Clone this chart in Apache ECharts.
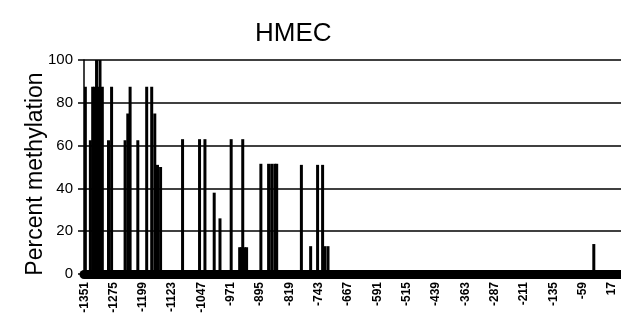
<!DOCTYPE html>
<html>
<head>
<meta charset="utf-8">
<script src="https://cdn.jsdelivr.net/npm/echarts@6/dist/echarts.min.js"></script>
<style>
    html, body {margin: 0; padding: 0; background: #fff;}
    #chart {width: 621px; height: 318px;}
</style>
</head>
<body>
<div id="chart"></div>
<script>
    // position (bp relative to start) -> percent methylation
    const firstPos = -1351;
    const lastPos = 40;
    const sitePositions = [-1348, -1335, -1329, -1324, -1319, -1313, -1310, -1304, -1288, -1280,
        -1245, -1238, -1232, -1212, -1189, -1176, -1168, -1161, -1153, -1096,
        -1052, -1038, -1014, -999, -970, -948, -944, -940, -935, -930,
        -893, -873, -865, -857, -852, -788, -764, -746, -733, -727, -719, -30];
    const siteValues = [87.5, 62.5, 87.5, 87.5, 100, 87.5, 100, 87.5, 62.5, 87.5,
        62.5, 75, 87.5, 62.5, 87.5, 87.5, 75, 51, 50, 63,
        63, 63, 38, 26, 63, 12.5, 12.5, 63, 12.5, 12.5,
        51.5, 51.5, 51.5, 51.5, 51.5, 51, 13, 51, 51, 13, 13, 14];
    const yTicks = [0, 20, 40, 60, 80, 100];

    let categories = [];
    for (let p = firstPos; p <= lastPos; p++) categories.push(String(p));
    let barData = categories.map(() => null);
    sitePositions.forEach((p, i) => {
        barData[p - firstPos] = siteValues[i];
    });

    let myChart = echarts.init(document.getElementById('chart'));
    myChart.setOption({
        animation: false,
        title: {
            text: 'HMEC',
            left: 250,
            top: 16,
            textStyle: {fontFamily: 'Liberation Sans', fontSize: 26, fontWeight: 'normal', color: '#000'}
        },
        grid: {left: 84, right: 0, top: 60, bottom: 44},
        xAxis: {
            type: 'category',
            data: categories,
            axisLine: {lineStyle: {color: '#000', width: 9}},
            axisTick: {show: false},
            axisLabel: {
                interval: 75,
                rotate: 90,
                margin: 8,
                color: '#000',
                fontFamily: 'Liberation Sans',
                fontWeight: 'bold',
                fontSize: 12
            }
        },
        yAxis: {
            type: 'value',
            min: yTicks[0],
            max: yTicks[yTicks.length - 1],
            interval: 20,
            name: 'Percent methylation',
            nameLocation: 'middle',
            nameGap: 37,
            nameMoveOverlap: false,
            nameTextStyle: {fontFamily: 'Liberation Sans', fontSize: 23, color: '#000', padding: [0, 14, 0, 0]},
            axisLine: {show: true, lineStyle: {color: '#000', width: 1.5}},
            axisTick: {show: true, length: 6, lineStyle: {color: '#000', width: 1.5}},
            axisLabel: {color: '#000', fontFamily: 'Liberation Sans', fontSize: 15, margin: 11},
            splitLine: {lineStyle: {color: '#000', width: 1.5}}
        },
        series: [{
            type: 'bar',
            data: barData,
            barWidth: 3,
            itemStyle: {color: '#000'}
        }]
    });
</script>
</body>
</html>
